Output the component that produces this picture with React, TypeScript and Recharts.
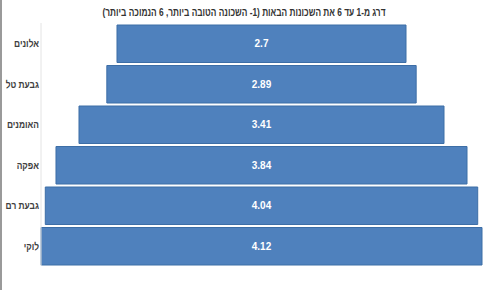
import { BarChart, Bar, XAxis, YAxis, LabelList } from "recharts"

const neighborhoods = ["אלונים", "גבעת טל", "האומנים", "אפקה", "גבעת רם", "לוקי"]
const scores = [2.7, 2.89, 3.41, 3.84, 4.04, 4.12]
const title = "דרג מ-1 עד 6 את השכונות הבאות (1- השכונה הטובה ביותר, 6 הנמוכה ביותר)"

const maxScore = Math.max(...scores)
const data = neighborhoods.map((name, i) => ({
  name,
  pad: (maxScore - scores[i]) / 2,
  score: scores[i],
}))

const font = "'Liberation Sans', Arial, sans-serif"

// Calibri-like narrow labels: squeeze the glyphs horizontally around the right edge
const NameTick = (props: any) => {
  const { y, payload } = props
  return (
    <g transform={`translate(37 ${y}) scale(0.8 1)`}>
      <text
        x={0}
        y={0}
        dy={4}
        direction="rtl"
        textAnchor="start"
        fontSize={10.5}
        fontWeight="bold"
        fill="#404040"
        fontFamily={font}
      >
        {payload.value}
      </text>
    </g>
  )
}

export default function App() {
  return (
    <div
      style={{
        position: "fixed",
        left: 0,
        top: 0,
        width: 490,
        height: 290,
        background: "#fff",
        borderLeft: "2px solid #9a9a9a",
        boxSizing: "border-box",
      }}
    >
      <svg width={488} height={22} style={{ position: "absolute", left: 0, top: 0 }}>
        <text
          x={242}
          y={16}
          textAnchor="middle"
          direction="rtl"
          fontSize={11}
          fontWeight="bold"
          fill="#333333"
          fontFamily={font}
          textLength={283}
          lengthAdjust="spacingAndGlyphs"
        >
          {title}
        </text>
      </svg>
      <BarChart
        width={488}
        height={290}
        data={data}
        layout="vertical"
        margin={{ top: 23, right: 8, bottom: 24, left: 0 }}
        barSize={37.5}
      >
        <XAxis type="number" hide domain={[0, maxScore]} />
        <YAxis
          type="category"
          dataKey="name"
          width={39}
          tickLine={false}
          axisLine={{ stroke: "#e4e4e4" }}
          tick={<NameTick />}
        />
        <Bar dataKey="pad" stackId="a" fill="transparent" isAnimationActive={false} />
        <Bar dataKey="score" stackId="a" fill="#4f81bd" stroke="#3d6ea6" strokeWidth={1} isAnimationActive={false}>
          <LabelList dataKey="score" position="center" fill="#ffffff" fontSize={10} fontWeight="bold" fontFamily={font} />
        </Bar>
      </BarChart>
    </div>
  )
}
